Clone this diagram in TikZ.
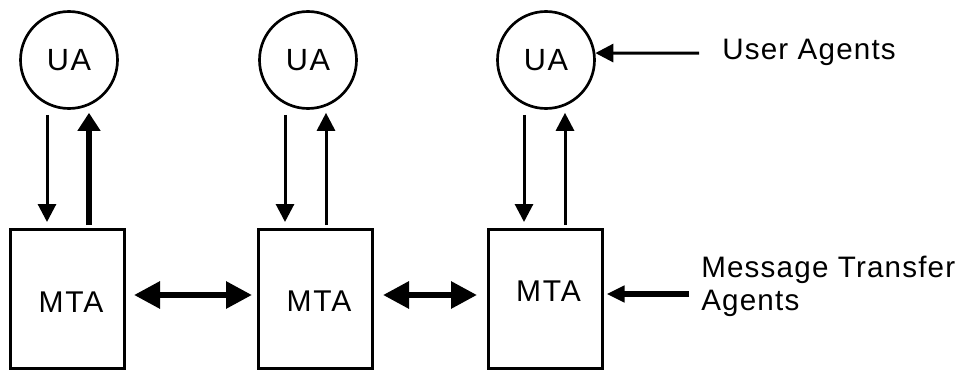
\documentclass[tikz,border=0pt]{standalone}
\usepackage{fontspec}
\setmainfont{Liberation Sans}
\newfontfamily\agentfont[LetterSpace=6]{Liberation Sans}
\newfontfamily\notefont[LetterSpace=4]{Liberation Sans}
\usetikzlibrary{arrows.meta, calc, positioning}

\begin{document}
\begin{tikzpicture}[x=0.75pt, y=-0.75pt,
		ua/.style = {draw, circle, line width=2pt, minimum size=72.75pt, inner sep=0pt, font=\agentfont\fontsize{23}{27}\selectfont},
		mta/.style = {draw, rectangle, line width=2.25pt, minimum width=85.5pt, minimum height=104.25pt, inner sep=0pt},
		tag/.style = {inner sep=0pt, font=\agentfont\fontsize{22.5}{26}\selectfont},
		note/.style = {inner sep=0pt, align=left, font=\notefont\fontsize{22.2}{24.75}\selectfont},
		slim/.style = {line width=2.25pt, -{Triangle[length=13.5pt, width=13.5pt]}},
		fat/.style = {line width=4.9pt, -{Triangle[length=13.5pt, width=16.5pt]}},
		both/.style = {line width=4.5pt, {Triangle[length=19.5pt, width=19.5pt]}-{Triangle[length=19.5pt, width=19.5pt]}},
		push/.style = {line width=4.5pt, -{Triangle[length=13.5pt, width=12pt]}}]
		\useasboundingbox (0,0) rectangle (968,371);
		\node[ua] (ua1) at (69,60) {UA};
		\node[ua] (ua2) at (308,60) {UA};
		\node[ua] (ua3) at (546,60) {UA};
		\node[mta] (mta1) at (67.5,299) {};
		\node[mta] (mta2) at (315,299) {};
		\node[mta] (mta3) at (545,299) {};
		\node[tag] (t1) at (71,302) {MTA};
		\node[tag] (t2) at (319,301.5) {MTA};
		\node[tag] (t3) at (548.5,291) {MTA};
		\node[note, anchor=base west] (uanote) at (722,60) {User Agents};
		\node[note, anchor=base west] (mtanote) at (701,310) {Message Transfer\\Agents};
		\coordinate (uatail) at (699,53);
		\coordinate (mtatail) at (689,294);
		% user agent <-> transfer agent
		\draw[slim] ($(ua1.south)+(-22,5)$) -- ($(ua1.south |- mta1.north)+(-22,-6)$);
		\draw[fat] ($(ua1.south |- mta1.north)+(20,-3)$) -- ($(ua1.south)+(20,3)$);
		\draw[slim] ($(ua2.south)+(-23,5)$) -- ($(ua2.south |- mta2.north)+(-23,-6)$);
		\draw[slim] ($(ua2.south |- mta2.north)+(18,-3)$) -- ($(ua2.south)+(18,3)$);
		\draw[slim] ($(ua3.south)+(-22,5)$) -- ($(ua3.south |- mta3.north)+(-22,-6)$);
		\draw[slim] ($(ua3.south |- mta3.north)+(19,-3)$) -- ($(ua3.south)+(19,3)$);
		% transfer agents
		\draw[both] ($(mta1.east)+(8,-4)$) -- ($(mta2.west)+(-4.5,-4)$);
		\draw[both] ($(mta2.east)+(9.5,-4)$) -- ($(mta3.west)+(-9.5,-4)$);
		% labels
		\draw[slim] (uatail) -- (ua3.8);
		\draw[push] (mtatail) -- ($(mtatail -| mta3.east)+(3,0)$);
	\end{tikzpicture}
\end{document}
